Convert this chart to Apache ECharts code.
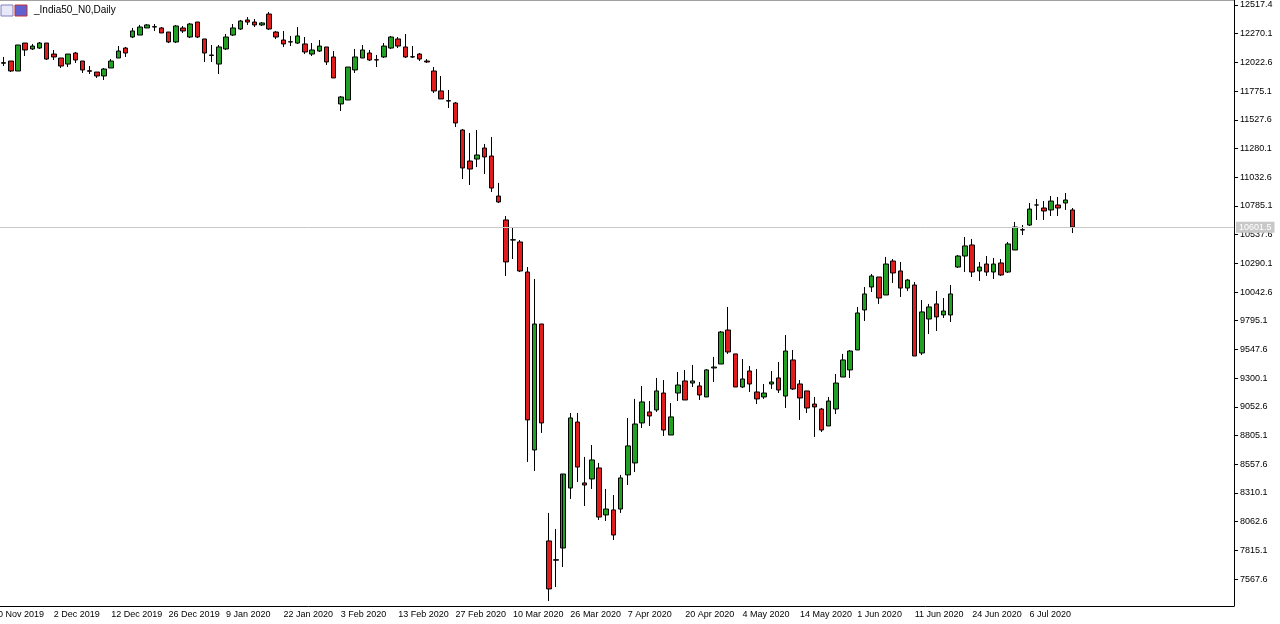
<!DOCTYPE html>
<html>
<head>
<meta charset="utf-8">
<script src="https://cdn.jsdelivr.net/npm/echarts@6/dist/echarts.min.js"></script>
<style>html,body{margin:0;padding:0;background:#fff}#chart{width:1280px;height:624px}</style>
</head>
<body>
<div id="chart"></div>
<script>
// daily bars: [open, close, low, high]
var candles = [
[12020,12015,11991,12069],[12034,11948,11939,12034],[11948,12172,11948,12172],[12189,12129,12077,12189],
[12138,12163,12129,12181],[12146,12189,12138,12198],[12189,12051,12043,12189],[12094,12069,12043,12129],
[12060,11991,11974,12060],[12008,12094,11982,12094],[12103,12043,12017,12112],[12034,11957,11931,12034],
[11950,11946,11922,11991],[11939,11905,11888,11939],[11905,11965,11870,11974],[11974,12034,11974,12051],
[12060,12120,12060,12163],[12146,12103,12069,12155],[12241,12293,12232,12319],[12258,12327,12258,12345],
[12319,12345,12319,12353],[12330,12327,12293,12353],[12319,12276,12276,12327],[12284,12198,12189,12284],
[12198,12336,12189,12345],[12319,12293,12276,12336],[12241,12353,12232,12362],[12370,12241,12232,12370],
[12224,12103,12026,12224],[12086,12082,12026,12172],[12008,12155,11922,12172],[12138,12241,12129,12267],
[12258,12319,12250,12353],[12310,12379,12301,12388],[12388,12370,12345,12413],[12370,12345,12327,12396],
[12345,12362,12336,12370],[12439,12310,12301,12457],[12284,12241,12224,12293],[12215,12181,12155,12293],
[12200,12198,12163,12250],[12189,12250,12181,12327],[12181,12112,12094,12241],[12094,12129,12077,12189],
[12120,12163,12112,12215],[12155,12026,12000,12155],[12069,11888,11888,12120],[11664,11724,11603,11732],
[11698,11982,11698,11982],[11957,12069,11931,12138],[12060,12129,12060,12172],[12103,12043,12034,12129],
[12045,12043,11982,12086],[12069,12163,12060,12189],[12146,12241,12138,12250],[12224,12163,12146,12241],
[12155,12069,12060,12267],[12071,12069,12060,12163],[12094,12051,12034,12103],[12034,12026,12017,12051],
[11948,11776,11758,11982],[11776,11707,11707,11905],[11692,11689,11629,11784],[11672,11500,11465,11681],
[11439,11112,11017,11448],[11172,11103,10965,11413],[11189,11224,11120,11439],[11284,11207,11060,11319],
[11215,10939,10905,11379],[10870,10819,10810,10983],[10664,10302,10181,10698],[10493,10491,10327,10595],
[10474,10224,10215,10491],[10215,8940,8578,10258],[8681,9767,8500,10155],[9767,8914,8828,9767],
[7897,7483,7379,8138],[7735,7731,7500,8000],[7836,8474,7672,7836],[8353,8957,8259,9000],
[8922,8534,8405,9000],[8397,8379,8198,8621],[8431,8595,8345,8724],[8526,8103,8078,8569],
[8121,8172,8069,8345],[8164,7948,7905,8293],[8172,8440,8138,8466],[8466,8716,8379,8957],
[8569,8905,8491,9121],[8914,9095,8871,9233],[9009,8974,8888,9103],[9026,9190,9009,9302],
[9172,8853,8802,9284],[8810,8966,8810,9086],[9172,9241,9103,9353],[9276,9112,9112,9371],
[9258,9276,9224,9414],[9233,9155,9112,9267],[9138,9371,9138,9379],[9388,9396,9267,9483],
[9422,9698,9422,9707],[9715,9526,9509,9914],[9509,9224,9224,9509],[9224,9293,9216,9465],
[9362,9250,9181,9405],[9181,9121,9077,9379],[9138,9172,9121,9250],[9250,9267,9207,9362],
[9302,9198,9172,9440],[9146,9534,9043,9672],[9457,9207,9198,9543],[9250,9129,8940,9284],
[9190,9043,9000,9190],[9077,9052,8793,9138],[9034,8853,8836,9043],[8888,9103,8888,9138],
[9034,9258,8991,9336],[9310,9457,9310,9509],[9371,9534,9302,9543],[9543,9862,9543,9914],
[9888,10026,9793,10086],[10086,10181,10043,10198],[10172,9991,9940,10172],[10017,10284,10017,10345],
[10310,10207,10121,10327],[10224,10077,10000,10302],[10077,10146,10052,10155],[10103,9491,9491,10129],
[9517,9871,9500,9974],[9810,9914,9681,9940],[9940,9828,9707,10052],[9845,9879,9819,9991],
[9845,10026,9784,10103],[10258,10353,10250,10362],[10353,10440,10215,10517],[10448,10215,10172,10500],
[10224,10258,10138,10302],[10284,10215,10181,10353],[10215,10284,10155,10336],[10293,10190,10181,10327],
[10215,10457,10207,10474],[10405,10603,10405,10647],[10580,10577,10534,10620],[10620,10758,10612,10810],
[10793,10793,10664,10845],[10767,10741,10664,10827],[10750,10827,10698,10870],[10793,10767,10698,10862],
[10810,10836,10750,10896],[10750,10603,10551,10767]
];
// label every 8th bar, first one at bar index 7
var dateLabels = ['2 Dec 2019','12 Dec 2019','26 Dec 2019','9 Jan 2020','22 Jan 2020','3 Feb 2020',
  '13 Feb 2020','27 Feb 2020','10 Mar 2020','26 Mar 2020','7 Apr 2020','20 Apr 2020','4 May 2020',
  '14 May 2020','1 Jun 2020','11 Jun 2020','24 Jun 2020','6 Jul 2020'];
var priceTicks = [7567.6,7815.1,8062.6,8310.1,8557.6,8805.1,9052.6,9300.1,9547.6,9795.1,10042.6,
  10290.1,10537.6,10785.1,11032.6,11280.1,11527.6,11775.1,12022.6,12270.1,12517.4];
var lastPrice = 10601.5;

var categories = [];
for (var i = 0; i < 172; i++) {
    var k = (i - 7) / 8;
    categories.push(i >= 7 && k === Math.floor(k) && k < dateLabels.length ? dateLabels[k] : '');
}

var FONT = 'Liberation Sans';
var myChart = echarts.init(document.getElementById('chart'));
var option = {
    animation: false,
    grid: { left: 0, right: 46, top: 0, bottom: 18 },
    graphic: [
        { type: 'rect', shape: { x: 0, y: 0, width: 1234, height: 1 }, style: { fill: '#a0a0a0' } },
        { type: 'rect', shape: { x: 1, y: 5, width: 12, height: 11 }, style: { fill: '#e8e8f8', stroke: '#8080c0' } },
        { type: 'rect', shape: { x: 15, y: 5, width: 12, height: 11 }, style: { fill: '#6060d0', stroke: '#c03030' } },
        { type: 'text', left: 34, top: 5, style: { text: '_India50_N0,Daily', font: '10px "Liberation Sans"', fill: '#000' } },
        { type: 'text', left: -2, top: 610, style: { text: '0 Nov 2019', font: '9px "Liberation Sans"', fill: '#000' } }
    ],
    xAxis: {
        type: 'category',
        data: categories,
        boundaryGap: true,
        axisLine: { lineStyle: { color: '#000' } },
        axisTick: { interval: function (i, v) { return v !== ''; }, length: 4, lineStyle: { color: '#000' } },
        axisLabel: {
            interval: function (i, v) { return v !== ''; },
            align: 'left', margin: 4,
            fontFamily: FONT, fontSize: 9, color: '#000'
        },
        splitLine: { show: false }
    },
    yAxis: {
        type: 'value',
        position: 'right',
        min: 7336, max: 12560,
        scale: true,
        axisLine: { show: true, lineStyle: { color: '#000' } },
        axisTick: { show: true, customValues: priceTicks, length: 4, lineStyle: { color: '#000' } },
        axisLabel: {
            customValues: priceTicks, margin: 6,
            fontFamily: FONT, fontSize: 9, color: '#000',
            formatter: function (v) { return v.toFixed(1); }
        },
        splitLine: { show: false }
    },
    series: [{
        type: 'candlestick',
        data: candles,
        barWidth: 5,
        itemStyle: {
            color: '#22a022', color0: '#e01c1c',
            borderColor: '#000', borderColor0: '#000', borderWidth: 1
        },
        markLine: {
            symbol: 'none', silent: true,
            lineStyle: { color: '#c8c8c8', type: 'solid', width: 1 },
            label: {
                position: 'end', distance: 2,
                formatter: lastPrice.toFixed(1),
                backgroundColor: '#c8c8c8', color: '#fff',
                fontFamily: FONT, fontSize: 9, padding: [1, 3]
            },
            data: [{ yAxis: lastPrice }]
        }
    }]
};
myChart.setOption(option, true);
</script>
</body>
</html>
